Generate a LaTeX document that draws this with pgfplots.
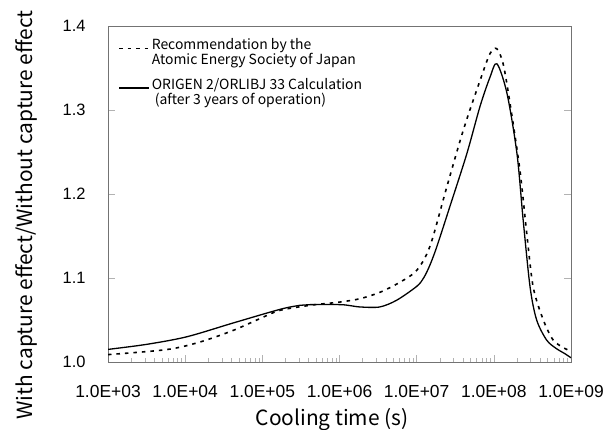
\documentclass[border=0pt]{standalone}
\usepackage{pgfplots}
\pgfplotsset{compat=1.18}
\usepackage{fontspec}
\setmainfont{Liberation Sans}
\newfontfamily\jpfont{Noto Sans CJK JP}

\pgfplotstableread{
x y
1000 1.015
3162 1.021
10471 1.030
41687 1.0464
169824 1.0627
309030 1.0675
416869 1.0683
1.023e6 1.0683
1.4e6 1.067
1.862e6 1.0655
3.311e6 1.0655
5.495e6 1.0735
1.0e7 1.090
1.230e7 1.100
1.479e7 1.115
1.820e7 1.137
2.692e7 1.185
4.467e7 1.248
6.607e7 1.304
8.913e7 1.339
1.096e8 1.355
1.479e8 1.320
1.995e8 1.248
2.399e8 1.169
2.951e8 1.089
3.589e8 1.050
4.842e8 1.026
6.457e8 1.016
8.3e8 1.010
1e9 1.005
}\origen

\pgfplotstableread{
x y
1000 1.0088
5770 1.0148
15560 1.0238
42100 1.0377
93300 1.0517
169400 1.0615
416869 1.0675
1.017e6 1.0714
1.85e6 1.0754
3.35e6 1.083
6.08e6 1.095
1.0e7 1.109
1.49e7 1.138
2.45e7 1.208
4.02e7 1.276
6.62e7 1.335
8.91e7 1.367
1.09e8 1.373
1.32e8 1.355
1.62e8 1.308
2.18e8 1.228
2.67e8 1.153
3.24e8 1.089
4.38e8 1.050
5.89e8 1.026
8.36e8 1.016
1e9 1.013
}\aesj

\begin{document}
\begin{tikzpicture}
\begin{axis}[
  xmode=log,
  scale only axis,
  width=463bp, height=336bp,
  xmin=1e3, xmax=1e9, ymin=1.0, ymax=1.4,
  xtick={1e3,1e4,1e5,1e6,1e7,1e8,1e9},
  xticklabels={1.0E+03,1.0E+04,1.0E+05,1.0E+06,1.0E+07,1.0E+08,1.0E+09},
  ytick={1.0,1.1,1.2,1.3,1.4},
  yticklabels={1.0,1.1,1.2,1.3,1.4},
  tick align=inside,
  xtick pos=bottom,
  ytick pos=both,
  axis line style={black!55, line width=0.8bp},
  major tick length=7bp, minor tick length=4bp,
  every tick/.style={black!30, line width=0.6bp},
  yticklabel style={font=\fontsize{16.5}{19}\selectfont, text=black, xshift=-19bp},
  xticklabel style={font=\fontsize{17.5}{20}\selectfont, text=black, yshift=-20bp},
  xlabel={Cooling time (s)},
  ylabel={With capture effect/Without capture effect},
  xlabel style={font=\jpfont\fontsize{21}{24}\selectfont, at={(axis description cs:0.484,0)}, anchor=base, yshift=-63bp},
  ylabel style={font=\jpfont\fontsize{21}{24}\selectfont, at={(axis description cs:-0.162,0.4375)}, anchor=base},
  legend cell align=left,
  legend style={at={(axis description cs:0.0216,0.97)}, anchor=north west, draw=none, fill=none,
    inner sep=0pt, font=\jpfont\fontsize{14}{13.5}\selectfont, cells={align=left},
    row sep=8bp},
  legend image code/.code={\draw[#1] (0bp,4bp) -- (30bp,4bp);},
]
\addplot[black, line width=1.6bp, dash pattern=on 3.5bp off 5bp, smooth, tension=0.5] table {\aesj};
\addlegendentry{Recommendation by the\\Atomic Energy Society of Japan}
\addplot[black, line width=1.3bp, smooth, tension=0.5] table {\origen};
\addlegendentry{ORIGEN 2/ORLIBJ 33 Calculation\\\hspace{3bp}(after 3 years of operation)}
\end{axis}
\pgfresetboundingbox
\path (-108bp,-68bp) rectangle (499bp,362bp);
\end{tikzpicture}
\end{document}
